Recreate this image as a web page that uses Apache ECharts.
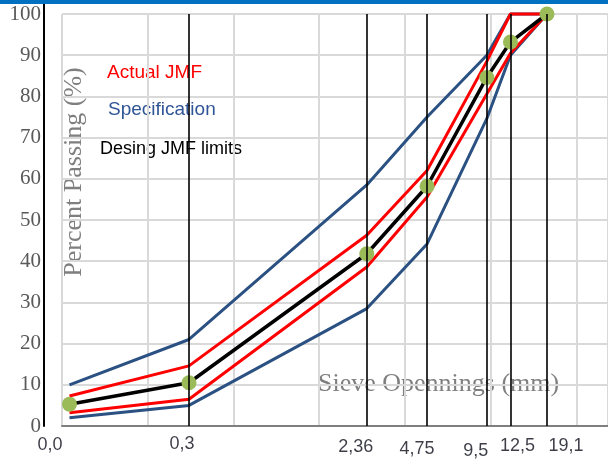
<!DOCTYPE html>
<html>
<head>
<meta charset="utf-8">
<script src="https://cdn.jsdelivr.net/npm/echarts@6/dist/echarts.min.js"></script>
<style>
  html, body { margin: 0; padding: 0; background: #ffffff; }
  #chart { width: 608px; height: 464px; }
</style>
</head>
<body>
<div id="chart"></div>
<script>
// Sieve openings (mm) and percent passing for each gradation curve
const sieves = [0.075, 0.3, 2.36, 4.75, 9.5, 12.5, 19.1];
const jmf = [5.3, 10.5, 41.8, 58.2, 84.6, 93.2, 100];
const jmfUpper = [7.3, 14.6, 46.3, 62, 88.5, 100, 100];
const jmfLower = [3.2, 6.5, 38.6, 55.6, 80.6, 90.5, 100];
const specUpper = [10, 21, 58.5, 75, 90, 100, 100];
const specLower = [2, 5, 28.5, 44.2, 74.6, 90, 100];

// Sieve guide lines and the labels written under the axis
const guideSieves = [0.3, 2.36, 4.75, 9.5, 12.5, 19.1];
const xLabelText = ['0,0', '0,3', '2,36', '4,75', '9,5', '12,5', '19,1'];
const yTicks = [0, 10, 20, 30, 40, 50, 60, 70, 80, 90, 100];

// log axis extent (mm) used for the plotted curves
const xMin = 0.0558;
const xMax = 38.76;
const xLabelAt = [xMin].concat(guideSieves);
// label offsets relative to the foot of each guide line
const xLabelOffsets = [[6, 19], [-7, 18], [-11, 21], [-10, 23], [-11, 25], [7, 20], [19, 20]];

const BLUE = '#2b5183';
const RED = '#ff0000';

const pairs = vals => sieves.map((s, i) => [s, vals[i]]);

const chart = echarts.init(document.getElementById('chart'), null, { renderer: 'canvas' });

chart.setOption({
  animation: false,
  backgroundColor: '#ffffff',
  grid: [
    // background grid with tick labels
    { left: 62, right: 0, top: 14, bottom: 38, containLabel: false },
    // data grid on the logarithmic sieve scale
    { left: 44, right: 0, top: 4, bottom: 38, containLabel: false }
  ],
  xAxis: [
    {
      gridIndex: 0, type: 'value', position: 'top', min: 0, max: 6.37, interval: 1,
      axisLine: { show: true, lineStyle: { color: '#7f7f7f', width: 2 } },
      axisTick: { show: false }, axisLabel: { show: false },
      splitLine: { show: true, lineStyle: { color: '#d9d9d9', width: 2 } }
    },
    {
      gridIndex: 1, type: 'log', logBase: 10, min: xMin, max: xMax,
      axisLine: { show: false }, axisTick: { show: false },
      axisLabel: { show: false }, splitLine: { show: false }
    }
  ],
  yAxis: [
    {
      gridIndex: 0, type: 'value', min: yTicks[0], max: yTicks[yTicks.length - 1], interval: 10,
      axisLine: { show: false }, axisTick: { show: false },
      axisLabel: {
        show: true, margin: 21, color: '#595959',
        fontFamily: '"Liberation Serif", serif', fontSize: 21
      },
      splitLine: { show: true, lineStyle: { color: '#d9d9d9', width: 2 } }
    },
    {
      gridIndex: 1, type: 'value', min: 0, max: 102.43,
      axisLine: { show: true, onZero: false, lineStyle: { color: '#000000', width: 2 } },
      axisTick: { show: false }, axisLabel: { show: false }, splitLine: { show: false }
    }
  ],
  series: [
    {
      name: 'Specification upper', type: 'line', xAxisIndex: 1, yAxisIndex: 1,
      data: pairs(specUpper), symbol: 'none', z: 2,
      lineStyle: { color: BLUE, width: 3 }
    },
    {
      name: 'Specification lower', type: 'line', xAxisIndex: 1, yAxisIndex: 1,
      data: pairs(specLower), symbol: 'none', z: 2,
      lineStyle: { color: BLUE, width: 3 }
    },
    {
      name: 'JMF upper', type: 'line', xAxisIndex: 1, yAxisIndex: 1,
      data: pairs(jmfUpper), symbol: 'none', z: 2,
      lineStyle: { color: RED, width: 3 }
    },
    {
      name: 'JMF lower', type: 'line', xAxisIndex: 1, yAxisIndex: 1,
      data: pairs(jmfLower), symbol: 'none', z: 2,
      lineStyle: { color: RED, width: 3 }
    },
    {
      // vertical guide lines at each sieve size
      name: 'Sieves', type: 'line', xAxisIndex: 1, yAxisIndex: 1,
      data: [], symbol: 'none', z: 3,
      markLine: {
        silent: true, symbol: 'none', animation: false,
        lineStyle: { color: '#000000', width: 1.6, type: 'solid' },
        label: { show: false },
        data: guideSieves.map(s => [{ coord: [s, 0] }, { coord: [s, 100] }])
      }
    },
    {
      name: 'JMF', type: 'line', xAxisIndex: 1, yAxisIndex: 1,
      data: pairs(jmf), z: 4,
      symbol: 'circle', symbolSize: 15, showAllSymbol: true,
      itemStyle: { color: '#9bbb59', borderWidth: 0 },
      lineStyle: { color: '#000000', width: 3.5 }
    },
    {
      // sieve size labels below the axis
      name: 'Sieve labels', type: 'scatter', xAxisIndex: 1, yAxisIndex: 1,
      symbolSize: 0, silent: true, z: 5,
      data: xLabelAt.map((s, i) => ({
        value: [s, 0],
        label: {
          show: true, position: 'inside', offset: xLabelOffsets[i],
          formatter: xLabelText[i], color: '#0d0d1a',
          fontFamily: '"Liberation Sans", Arial, sans-serif', fontSize: 18
        }
      }))
    }
  ],
  graphic: [
    { type: 'rect', shape: { x: 0, y: 0, width: 608, height: 4 }, style: { fill: '#0070c0' }, z: 10 },
    {
      type: 'text', x: 74, y: 172, rotation: Math.PI / 2,
      style: {
        text: 'Percent Passing (%)', fill: '#7f7f7f',
        fontFamily: '"Liberation Serif", serif', fontSize: 26,
        align: 'center', verticalAlign: 'middle'
      }
    },
    {
      type: 'text', x: 318, y: 384,
      style: {
        text: 'Sieve Opennings (mm)', fill: '#7f7f7f',
        fontFamily: '"Liberation Serif", serif', fontSize: 26,
        align: 'left', verticalAlign: 'middle'
      }
    },
    {
      type: 'text', x: 107, y: 73,
      style: {
        text: 'Actual JMF', fill: '#ff0000',
        fontFamily: '"Liberation Sans", Arial, sans-serif', fontSize: 19,
        align: 'left', verticalAlign: 'middle'
      }
    },
    {
      type: 'text', x: 108, y: 110,
      style: {
        text: 'Specification', fill: '#2f5597',
        fontFamily: '"Liberation Sans", Arial, sans-serif', fontSize: 19,
        align: 'left', verticalAlign: 'middle'
      }
    },
    {
      type: 'text', x: 100, y: 149,
      style: {
        text: 'Desing JMF limits', fill: '#000000',
        fontFamily: '"Liberation Sans", Arial, sans-serif', fontSize: 18,
        align: 'left', verticalAlign: 'middle'
      }
    }
  ]
});
</script>
</body>
</html>
